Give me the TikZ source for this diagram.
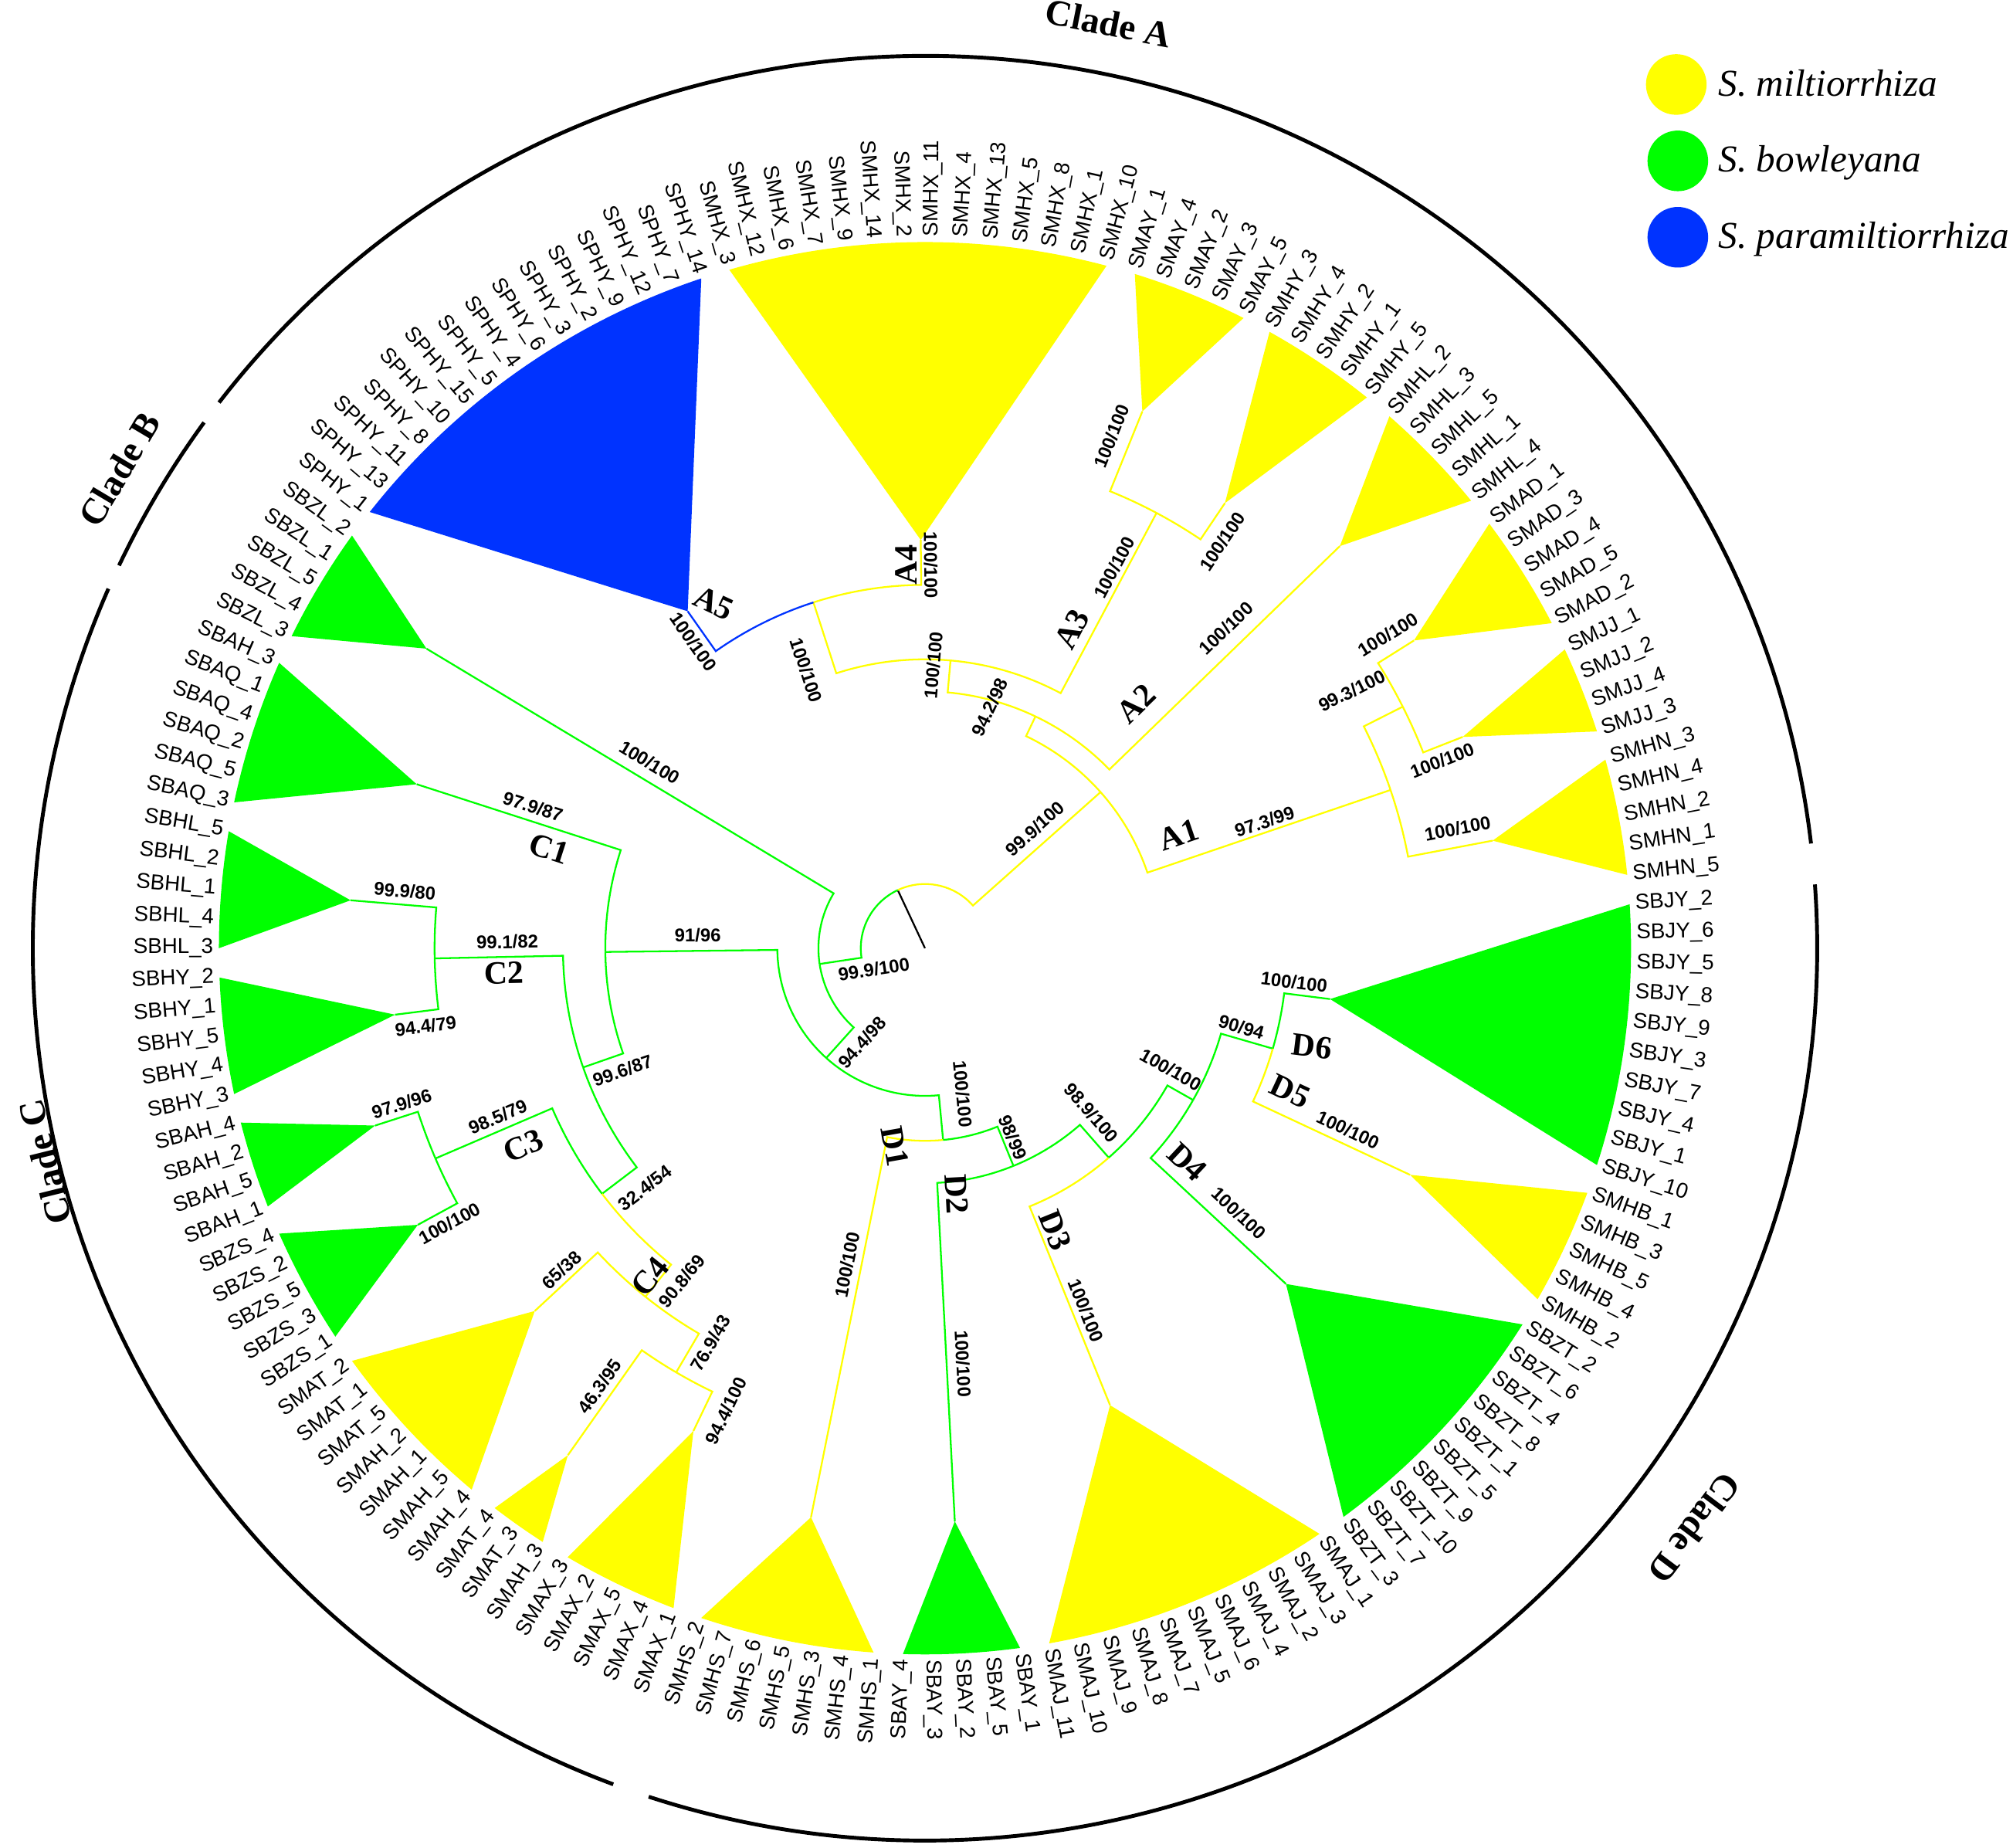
\documentclass[tikz,border=0pt]{standalone}
\usepackage{fontspec}
\setmainfont{Liberation Serif}
\setsansfont{Liberation Sans}
\definecolor{ylw}{RGB}{255,255,0}
\definecolor{grn}{RGB}{0,255,0}
\definecolor{blu}{RGB}{0,51,255}
\tikzset{
  yb/.style={draw=ylw, line width=0.65pt},
  gb/.style={draw=grn, line width=0.65pt},
  bb/.style={draw=blu, line width=0.65pt},
  leaf/.style={font=\sffamily\fontsize{7.9}{8}\selectfont, inner sep=0pt},
  boot/.style={font=\sffamily\bfseries\fontsize{6.8}{7}\selectfont, inner sep=0pt},
  sub/.style={font=\rmfamily\bfseries\fontsize{12}{12}\selectfont, inner sep=0pt},
  clade/.style={font=\rmfamily\bfseries\fontsize{13.5}{14}\selectfont, inner sep=0pt},
  cladearc/.style={line width=1.4pt},
  legdot/.style={circle, inner sep=0pt, minimum size=0.785cm},
  legtxt/.style={font=\rmfamily\itshape\fontsize{14}{15}\selectfont, inner sep=0pt, anchor=base west}
}
\begin{document}
\begin{tikzpicture}[x=0.016626cm, y=0.016626cm]
\useasboundingbox (0,0) rectangle (1568,-1439);
\fill[white] (0,0) rectangle (1568,-1439);
\begin{scope}[shift={(720.5,-738.5)}]
\coordinate (o) at (0,0);
\coordinate (rt) at (115.08:50);
\coordinate (nAall) at (41.64:183);
\coordinate (nA1) at (18.77:383);
\coordinate (n993) at (26.815:417);
\coordinate (nAup) at (64.515:200);
\coordinate (nAleft) at (84.93:225);
\coordinate (nA3) at (61.985:384);
\coordinate (nA45) at (107.88:283);
\coordinate (nG) at (188.52:83);
\coordinate (nCD) at (228.03:115);
\coordinate (nC) at (180.67:249);
\coordinate (nD) at (275.40:150);
\coordinate (n9899) at (292.12:183);
\coordinate (n989) at (311.27:217);
\coordinate (nD456) at (330.49:240);
\coordinate (n9094) at (343.90:282);
\coordinate (n996) at (199.22:282);
\coordinate (nC2) at (181.19:382);
\coordinate (n324) at (217.25:316);
\coordinate (nC3) at (203.24:415);
\coordinate (nC4) at (231.255:348);
\coordinate (n769) at (239.60:383);
\coordinate (tSMHX) at (90.595:318);
\coordinate (tSPHY) at (125.16:321);
\coordinate (tSMAY) at (67.95:451);
\coordinate (tSMHY) at (56.02:418);
\coordinate (tSMHL) at (44.10:450);
\coordinate (tSMAD) at (32.18:450);
\coordinate (tSMJJ) at (21.45:450);
\coordinate (tSMHN) at (10.73:450);
\coordinate (tSBJY) at (352.845:318);
\coordinate (tSMHB) at (334.96:417);
\coordinate (tSBZT) at (317.08:384);
\coordinate (tSMAJ) at (292.05:384);
\coordinate (tSBAY) at (272.98:447);
\coordinate (tSMHS) at (258.67:452);
\coordinate (tSMAX) at (244.37:417);
\coordinate (tSMALL) at (234.835:483);
\coordinate (tBIG) at (222.91:415);
\coordinate (tSBZS) at (208.605:450);
\coordinate (tSBAH) at (197.875:450);
\coordinate (tSBHY) at (187.15:416);
\coordinate (tSBHL) at (175.23:449);
\coordinate (tSBAQ) at (162.12:416);
\coordinate (tSBZL) at (149.0:453);
\fill[ylw] (tSMHX) -- (106.09:550) arc[start angle=106.09, end angle=75.10, radius=550] -- cycle;
\fill[blu] (tSPHY) -- (141.85:550) arc[start angle=141.85, end angle=108.47, radius=550] -- cycle;
\fill[ylw] (tSMAY) -- (72.71:550) arc[start angle=72.71, end angle=63.18, radius=550] -- cycle;
\fill[ylw] (tSMHY) -- (60.79:550) arc[start angle=60.79, end angle=51.25, radius=550] -- cycle;
\fill[ylw] (tSMHL) -- (48.87:550) arc[start angle=48.87, end angle=39.33, radius=550] -- cycle;
\fill[ylw] (tSMAD) -- (36.95:550) arc[start angle=36.95, end angle=27.41, radius=550] -- cycle;
\fill[ylw] (tSMJJ) -- (25.03:550) arc[start angle=25.03, end angle=17.88, radius=550] -- cycle;
\fill[ylw] (tSMHN) -- (15.49:550) arc[start angle=15.49, end angle=5.96, radius=550] -- cycle;
\fill[grn] (tSBJY) -- (363.57:550) arc[start angle=363.57, end angle=342.12, radius=550] -- cycle;
\fill[ylw] (tSMHB) -- (339.73:550) arc[start angle=339.73, end angle=330.19, radius=550] -- cycle;
\fill[grn] (tSBZT) -- (327.81:550) arc[start angle=327.81, end angle=306.35, radius=550] -- cycle;
\fill[ylw] (tSMAJ) -- (303.97:550) arc[start angle=303.97, end angle=280.13, radius=550] -- cycle;
\fill[grn] (tSBAY) -- (277.74:550) arc[start angle=277.74, end angle=268.21, radius=550] -- cycle;
\fill[ylw] (tSMHS) -- (265.82:550) arc[start angle=265.82, end angle=251.52, radius=550] -- cycle;
\fill[ylw] (tSMAX) -- (249.14:550) arc[start angle=249.14, end angle=239.60, radius=550] -- cycle;
\fill[ylw] (tSMALL) -- (237.22:550) arc[start angle=237.22, end angle=232.45, radius=550] -- cycle;
\fill[ylw] (tBIG) -- (230.06:550) arc[start angle=230.06, end angle=215.76, radius=550] -- cycle;
\fill[grn] (tSBZS) -- (213.37:550) arc[start angle=213.37, end angle=203.84, radius=550] -- cycle;
\fill[grn] (tSBAH) -- (201.45:550) arc[start angle=201.45, end angle=194.30, radius=550] -- cycle;
\fill[grn] (tSBHY) -- (191.92:550) arc[start angle=191.92, end angle=182.38, radius=550] -- cycle;
\fill[grn] (tSBHL) -- (180.00:550) arc[start angle=180.00, end angle=170.46, radius=550] -- cycle;
\fill[grn] (tSBAQ) -- (168.08:550) arc[start angle=168.08, end angle=156.16, radius=550] -- cycle;
\fill[grn] (tSBZL) -- (153.77:550) arc[start angle=153.77, end angle=144.24, radius=550] -- cycle;
\draw[line width=0.65pt] (o) -- (rt);
\draw[yb] (rt) arc[start angle=115.08, end angle=41.64, radius=50] -- (nAall);
\draw[gb] (rt) arc[start angle=115.08, end angle=188.52, radius=50] -- (nG);
\draw[yb] (nAall) arc[start angle=41.64, end angle=18.77, radius=183] -- (nA1);
\draw[yb] (nAall) arc[start angle=41.64, end angle=64.515, radius=183] -- (nAup);
\draw[yb] (nA1) arc[start angle=18.77, end angle=26.815, radius=383] -- (n993);
\draw[yb] (nA1) arc[start angle=18.77, end angle=10.73, radius=383] -- (tSMHN);
\draw[yb] (n993) arc[start angle=26.815, end angle=32.18, radius=417] -- (tSMAD);
\draw[yb] (n993) arc[start angle=26.815, end angle=21.45, radius=417] -- (tSMJJ);
\draw[yb] (nAup) arc[start angle=64.515, end angle=44.10, radius=200] -- (tSMHL);
\draw[yb] (nAup) arc[start angle=64.515, end angle=84.93, radius=200] -- (nAleft);
\draw[yb] (nAleft) arc[start angle=84.93, end angle=61.985, radius=225] -- (nA3);
\draw[yb] (nAleft) arc[start angle=84.93, end angle=107.88, radius=225] -- (nA45);
\draw[yb] (nA3) arc[start angle=61.985, end angle=67.95, radius=384] -- (tSMAY);
\draw[yb] (nA3) arc[start angle=61.985, end angle=56.02, radius=384] -- (tSMHY);
\draw[yb] (nA45) arc[start angle=107.88, end angle=90.595, radius=283] -- (tSMHX);
\draw[bb] (nA45) arc[start angle=107.88, end angle=125.16, radius=283] -- (tSPHY);
\draw[gb] (nG) arc[start angle=188.52, end angle=149.0, radius=83] -- (tSBZL);
\draw[gb] (nG) arc[start angle=188.52, end angle=228.03, radius=83] -- (nCD);
\draw[gb] (nCD) arc[start angle=228.03, end angle=180.67, radius=115] -- (nC);
\draw[gb] (nCD) arc[start angle=228.03, end angle=275.40, radius=115] -- (nD);
\draw[yb] (nD) arc[start angle=275.40, end angle=258.67, radius=150] -- (tSMHS);
\draw[gb] (nD) arc[start angle=275.40, end angle=292.12, radius=150] -- (n9899);
\draw[gb] (n9899) arc[start angle=292.12, end angle=272.98, radius=183] -- (tSBAY);
\draw[gb] (n9899) arc[start angle=292.12, end angle=311.27, radius=183] -- (n989);
\draw[yb] (n989) arc[start angle=311.27, end angle=292.05, radius=217] -- (tSMAJ);
\draw[gb] (n989) arc[start angle=311.27, end angle=330.49, radius=217] -- (nD456);
\draw[gb] (nD456) arc[start angle=330.49, end angle=317.08, radius=240] -- (tSBZT);
\draw[gb] (nD456) arc[start angle=330.49, end angle=343.90, radius=240] -- (n9094);
\draw[yb] (n9094) arc[start angle=343.90, end angle=334.96, radius=282] -- (tSMHB);
\draw[gb] (n9094) arc[start angle=343.90, end angle=352.845, radius=282] -- (tSBJY);
\draw[gb] (nC) arc[start angle=180.67, end angle=162.12, radius=249] -- (tSBAQ);
\draw[gb] (nC) arc[start angle=180.67, end angle=199.22, radius=249] -- (n996);
\draw[gb] (n996) arc[start angle=199.22, end angle=181.19, radius=282] -- (nC2);
\draw[gb] (n996) arc[start angle=199.22, end angle=217.25, radius=282] -- (n324);
\draw[gb] (nC2) arc[start angle=181.19, end angle=175.23, radius=382] -- (tSBHL);
\draw[gb] (nC2) arc[start angle=181.19, end angle=187.15, radius=382] -- (tSBHY);
\draw[gb] (n324) arc[start angle=217.25, end angle=203.24, radius=316] -- (nC3);
\draw[yb] (n324) arc[start angle=217.25, end angle=231.255, radius=316] -- (nC4);
\draw[gb] (nC3) arc[start angle=203.24, end angle=197.875, radius=415] -- (tSBAH);
\draw[gb] (nC3) arc[start angle=203.24, end angle=208.605, radius=415] -- (tSBZS);
\draw[yb] (nC4) arc[start angle=231.255, end angle=222.91, radius=348] -- (tBIG);
\draw[yb] (nC4) arc[start angle=231.255, end angle=239.60, radius=348] -- (n769);
\draw[yb] (n769) arc[start angle=239.60, end angle=234.835, radius=383] -- (tSMALL);
\draw[yb] (n769) arc[start angle=239.60, end angle=244.37, radius=383] -- (tSMAX);
\foreach \lab [count=\k from 0] in {SMHX\_11, SMHX\_4, SMHX\_13, SMHX\_5, SMHX\_8, SMHX\_1, SMHX\_10,
  SMAY\_1, SMAY\_4, SMAY\_2, SMAY\_3, SMAY\_5, SMHY\_3, SMHY\_4, SMHY\_2, SMHY\_1, SMHY\_5,
  SMHL\_2, SMHL\_3, SMHL\_5, SMHL\_1, SMHL\_4, SMAD\_1, SMAD\_3, SMAD\_4, SMAD\_5, SMAD\_2,
  SMJJ\_1, SMJJ\_2, SMJJ\_4, SMJJ\_3, SMHN\_3, SMHN\_4, SMHN\_2, SMHN\_1, SMHN\_5,
  SBJY\_2, SBJY\_6, SBJY\_5, SBJY\_8, SBJY\_9, SBJY\_3, SBJY\_7, SBJY\_4, SBJY\_1, SBJY\_10,
  SMHB\_1, SMHB\_3, SMHB\_5, SMHB\_4, SMHB\_2,
  SBZT\_2, SBZT\_6, SBZT\_4, SBZT\_8, SBZT\_1, SBZT\_5, SBZT\_9, SBZT\_10, SBZT\_7, SBZT\_3,
  SMAJ\_1, SMAJ\_3, SMAJ\_2, SMAJ\_4, SMAJ\_6, SMAJ\_5, SMAJ\_7, SMAJ\_8, SMAJ\_9, SMAJ\_10, SMAJ\_11,
  SBAY\_1, SBAY\_5, SBAY\_2, SBAY\_3, SBAY\_4,
  SMHS\_1, SMHS\_4, SMHS\_3, SMHS\_5, SMHS\_6, SMHS\_7, SMHS\_2,
  SMAX\_1, SMAX\_4, SMAX\_5, SMAX\_2, SMAX\_3, SMAH\_3, SMAT\_3, SMAT\_4,
  SMAH\_4, SMAH\_5, SMAH\_1, SMAH\_2, SMAT\_5, SMAT\_1, SMAT\_2,
  SBZS\_1, SBZS\_3, SBZS\_5, SBZS\_2, SBZS\_4, SBAH\_1, SBAH\_5, SBAH\_2, SBAH\_4,
  SBHY\_3, SBHY\_4, SBHY\_5, SBHY\_1, SBHY\_2, SBHL\_3, SBHL\_4, SBHL\_1, SBHL\_2, SBHL\_5,
  SBAQ\_3, SBAQ\_5, SBAQ\_2, SBAQ\_4, SBAQ\_1, SBAH\_3, SBZL\_3, SBZL\_4, SBZL\_5, SBZL\_1, SBZL\_2,
  SPHY\_1, SPHY\_13, SPHY\_11, SPHY\_8, SPHY\_10, SPHY\_15, SPHY\_5, SPHY\_4, SPHY\_6, SPHY\_3,
  SPHY\_2, SPHY\_9, SPHY\_12, SPHY\_7, SPHY\_14,
  SMHX\_3, SMHX\_12, SMHX\_6, SMHX\_7, SMHX\_9, SMHX\_14, SMHX\_2}{
  \pgfmathsetmacro\ang{89.4-2.3841*\k}
  \pgfmathtruncatemacro\rgt{cos(\ang)>0 ? 1 : 0}
  \ifnum\rgt=1
    \node[leaf, anchor=west, rotate=\ang] (lf\k) at (\ang:554) {\lab};
  \else
    \node[leaf, anchor=east, rotate=\ang+180] (lf\k) at (\ang:554) {\lab};
  \fi
}
\coordinate (aA) at (142.3:695);
\coordinate (aB) at (143.9:695);
\coordinate (aC) at (156.24:695);
\coordinate (aD) at (251.96:695);
\draw[cladearc] (aA) arc[start angle=142.3, end angle=6.74, radius=695];
\draw[cladearc] (aB) arc[start angle=143.9, end angle=154.6, radius=695];
\draw[cladearc] (aC) arc[start angle=156.24, end angle=249.55, radius=695];
\draw[cladearc] (aD) arc[start angle=251.96, end angle=364.1, radius=695];
\end{scope}
\node[clade, rotate=-11.2] (cA) at (863.5,-18) {Clade A};
\node[clade, rotate=59.25] (cB) at (93,-365.6) {Clade B};
\node[clade, rotate=103.9] (cC) at (35,-905) {Clade C};
\node[clade, rotate=-127] (cD) at (1320,-1190) {Clade D};
\node[boot, rotate=41.64] (bs1) at (806.2,-645.3) {99.9/100};
\node[boot, rotate=64.5] (bs2) at (771,-551) {94.2/98};
\node[boot, rotate=84.93] (bs3) at (727,-518) {100/100};
\node[boot, rotate=-72.12] (bs4) at (628,-522) {100/100};
\node[boot, rotate=-89.4] (bs5) at (725,-440) {100/100};
\node[boot, rotate=-54.84] (bs6) at (540,-500) {100/100};
\node[boot, rotate=62] (bs7) at (868,-442) {100/100};
\node[boot, rotate=67.95] (bs8) at (865.9,-339.7) {100/100};
\node[boot, rotate=56.02] (bs9) at (952.2,-421.9) {100/100};
\node[boot, rotate=44.1] (bs10) at (955,-489.3) {100/100};
\node[boot, rotate=18.77] (bs11) at (985,-640) {97.3/99};
\node[boot, rotate=26.8] (bs12) at (1053,-538) {99.3/100};
\node[boot, rotate=32.18] (bs13) at (1081.3,-494.3) {100/100};
\node[boot, rotate=21.45] (bs14) at (1123.4,-592.4) {100/100};
\node[boot, rotate=10.73] (bs15) at (1135.4,-645.2) {100/100};
\node[boot, rotate=-84.6] (bs16) at (749.8,-852) {100/100};
\node[boot, rotate=78.67] (bs17) at (660,-985) {100/100};
\node[boot, rotate=-67.88] (bs18) at (789,-885.8) {98/99};
\node[boot, rotate=-87.02] (bs19) at (750,-1062) {100/100};
\node[boot, rotate=-48.73] (bs20) at (850,-866.8) {98.9/100};
\node[boot, rotate=-67.95] (bs21) at (845.8,-1020.6) {100/100};
\node[boot, rotate=-29.51] (bs22) at (912.1,-833) {100/100};
\node[boot, rotate=-42.92] (bs23) at (965,-945) {100/100};
\node[boot, rotate=-16.1] (bs24) at (967,-800) {90/94};
\node[boot, rotate=-25.04] (bs25) at (1050,-880) {100/100};
\node[boot, rotate=-7.155] (bs26) at (1008,-765) {100/100};
\node[boot, rotate=8.52] (bs27) at (680.7,-754.9) {99.9/100};
\node[boot, rotate=48.03] (bs28) at (671.5,-811.9) {94.4/98};
\node[boot, rotate=-31] (bs29) at (506.1,-593.8) {100/100};
\node[boot, rotate=-17.88] (bs30) at (415.1,-628.4) {97.9/87};
\node[boot, rotate=0.67] (bs31) at (543.5,-728.5) {91/96};
\node[boot, rotate=-4.77] (bs32) at (315.4,-694) {99.9/80};
\node[boot, rotate=1.19] (bs33) at (395.2,-733.6) {99.1/82};
\node[boot, rotate=7.15] (bs34) at (331.6,-799.2) {94.4/79};
\node[boot, rotate=19.22] (bs35) at (484.9,-833.8) {99.6/87};
\node[boot, rotate=17.88] (bs36) at (312.9,-859.6) {97.9/96};
\node[boot, rotate=23.24] (bs37) at (387.7,-870) {98.5/79};
\node[boot, rotate=28.6] (bs38) at (350.3,-952.8) {100/100};
\node[boot, rotate=37.25] (bs39) at (502.4,-925.2) {32.4/54};
\node[boot, rotate=42.9] (bs40) at (437.5,-989.1) {65/38};
\node[boot, rotate=51.25] (bs41) at (531,-997.7) {90.8/69};
\node[boot, rotate=59.6] (bs42) at (553.5,-1046.1) {76.9/43};
\node[boot, rotate=54.84] (bs43) at (467.2,-1079.8) {46.3/95};
\node[boot, rotate=64.37] (bs44) at (565.5,-1098.9) {94.4/100};
\node[sub, rotate=18.77] (sA1) at (918,-650) {A1};
\node[sub, rotate=44.1] (sA2) at (885,-548) {A2};
\node[sub, rotate=62] (sA3) at (835,-490) {A3};
\node[sub, rotate=90] (sA4) at (706,-440) {A4};
\node[sub, rotate=-25] (sA5) at (556,-470) {A5};
\node[sub, rotate=-80] (sD1) at (697,-893) {D1};
\node[sub, rotate=-87] (sD2) at (745,-930) {D2};
\node[sub, rotate=-68] (sD3) at (822,-958) {D3};
\node[sub, rotate=-43] (sD4) at (925,-905) {D4};
\node[sub, rotate=-25] (sD5) at (1005,-850) {D5};
\node[sub, rotate=-7] (sD6) at (1022,-815) {D6};
\node[sub, rotate=-17.88] (sC1) at (427.6,-661.2) {C1};
\node[sub, rotate=1.19] (sC2) at (392.7,-757.8) {C2};
\node[sub, rotate=23.24] (sC3) at (407.6,-892.4) {C3};
\node[sub, rotate=51.25] (sC4) at (506.1,-994.3) {C4};
\node[legdot, fill=ylw] (k1) at (1305.7,-65.8) {};
\node[legdot, fill=grn] (k2) at (1306.9,-125.3) {};
\node[legdot, fill=blu] (k3) at (1306.9,-184.8) {};
\node[legtxt] (t1) at (1338.2,-74.6) {S. miltiorrhiza};
\node[legtxt] (t2) at (1338.2,-133.9) {S. bowleyana};
\node[legtxt] (t3) at (1338.2,-193.5) {S. paramiltiorrhiza};
\end{tikzpicture}
\end{document}
